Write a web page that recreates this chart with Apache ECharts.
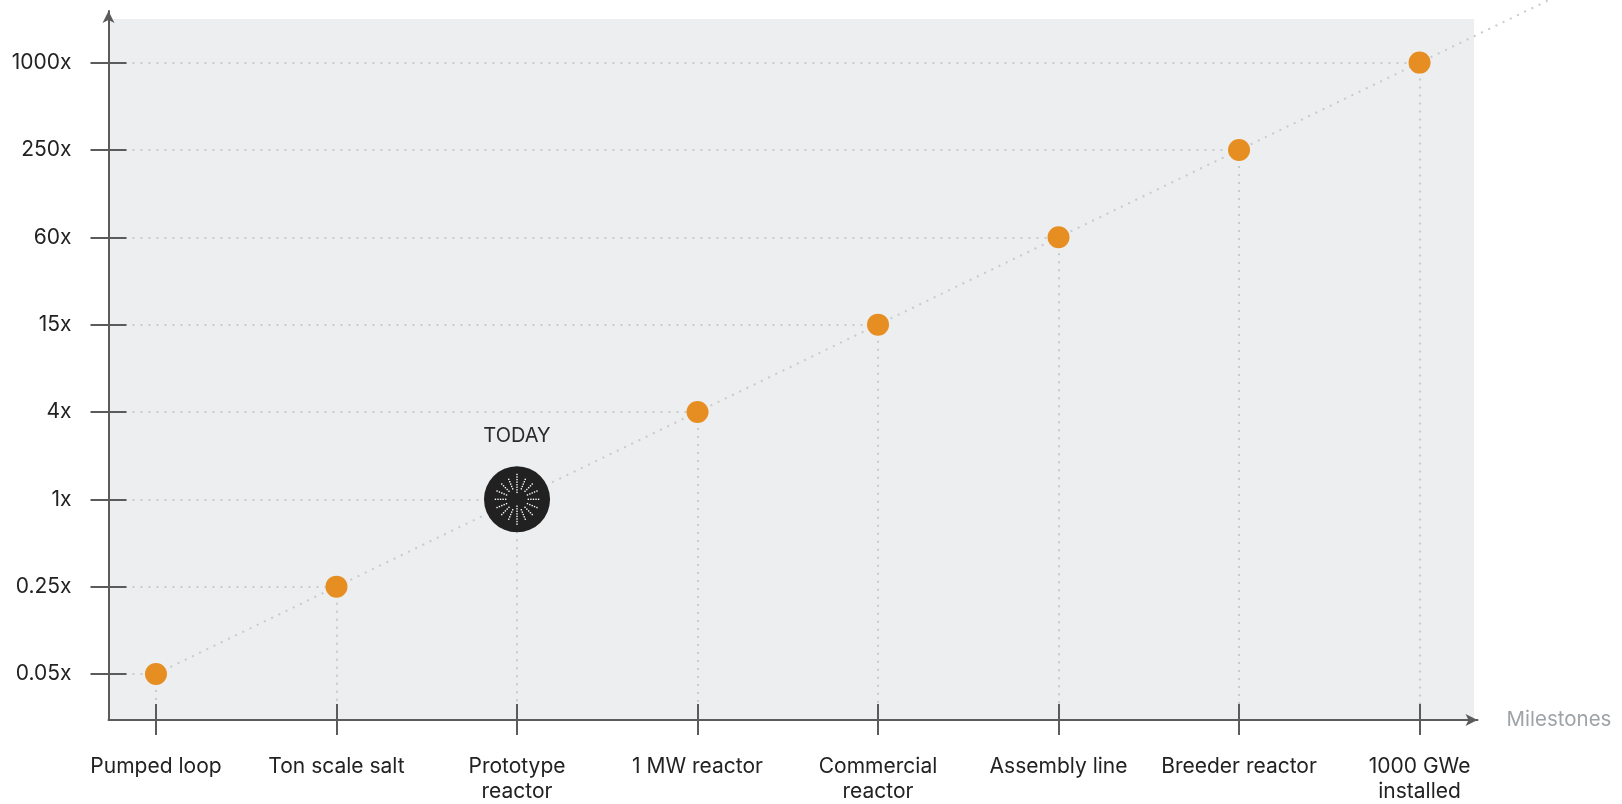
<!DOCTYPE html>
<html>
<head>
<meta charset="utf-8">
<script src="https://cdn.jsdelivr.net/npm/echarts@6/dist/echarts.min.js"></script>
<style>
  html, body { margin: 0; padding: 0; background: #ffffff; }
  #chart { width: 1622px; height: 804px; }
</style>
</head>
<body>
<div id="chart"></div>
<script>
// ---- data ----
const categories = ['Pumped loop', 'Ton scale salt', 'Prototype\nreactor', '1 MW reactor',
  'Commercial\nreactor', 'Assembly line', 'Breeder reactor', '1000 GWe\ninstalled'];
const yTickLabels = ['0.05x', '0.25x', '1x', '4x', '15x', '60x', '250x', '1000x'];
const milestoneMultipliers = ['0.05x', '0.25x', '1x', '4x', '15x', '60x', '250x', '1000x'];
const todayMilestone = 'Prototype\nreactor';
const todayLabel = 'TODAY';
const xAxisName = 'Milestones';

// ---- derived ----
const n = categories.length;
const points = categories.map((c, i) => [i, yTickLabels.indexOf(milestoneMultipliers[i])]);
const todayIdx = categories.indexOf(todayMilestone);

const X_MIN = -0.263, X_MAX = (n - 1) + 0.321;
const Y_MIN = -0.527, Y_MAX = (yTickLabels.length - 1) + 0.591;
const BG_RIGHT = (n - 1) + 0.302, BG_TOP = (yTickLabels.length - 1) + 0.5;

const FONT = 'Inter, "Noto Sans", sans-serif';
const AXIS_COLOR = '#5b5b5b';
const DOT_COLOR = '#c9cacc';
const DOTTED = [2, 6];

// trend line from first point through last, extended beyond plot
const first = points[0], last = points[n - 1];
const slope = (last[1] - first[1]) / (last[0] - first[0]);
const trend = [first, [n + 1, first[1] + slope * (n + 1 - first[0])]];

// guide lines
const guides = [];
points.forEach(p => {
  guides.push([{ coord: [X_MIN, p[1]] }, { coord: [p[0], p[1]] }]);
  guides.push([{ coord: [p[0], p[1]] }, { coord: [p[0], Y_MIN] }]);
});

// TODAY icon
function todayIcon() {
  const s = 68, c = s / 2;
  let dots = '';
  const rays = 16;
  for (let k = 0; k < rays; k++) {
    const a = (k / rays) * Math.PI * 2;
    const vertical = (k === 0 || k === rays / 2);
    const r0 = vertical ? 7 : 11.5, r1 = vertical ? 27 : 23;
    for (let r = r0; r <= r1 + 0.01; r += 2.6) {
      const x = c + Math.sin(a) * r, y = c - Math.cos(a) * r;
      dots += `<rect x="${(x - 0.7).toFixed(2)}" y="${(y - 0.7).toFixed(2)}" width="1.4" height="1.4" fill="#ffffff"/>`;
    }
  }
  const svg = `<svg xmlns="http://www.w3.org/2000/svg" width="${s}" height="${s}" viewBox="0 0 ${s} ${s}">` +
    `<circle cx="${c}" cy="${c}" r="${c - 0.5}" fill="#212121"/>${dots}</svg>`;
  return 'image://data:image/svg+xml;charset=utf-8,' + encodeURIComponent(svg);
}

const scatterData = points.map((p, i) => {
  if (i === todayIdx) {
    return {
      value: p,
      symbol: todayIcon(),
      symbolSize: 67,
      label: {
        show: true, formatter: todayLabel, position: 'top', distance: 20,
        fontFamily: FONT, fontSize: 20, color: '#2b2b2b'
      }
    };
  }
  return { value: p };
});

const xTickValues = categories.map((c, i) => i);
const yTickValues = yTickLabels.map((c, j) => j);

const chart = echarts.init(document.getElementById('chart'), null, { renderer: 'canvas' });
chart.setOption({
  animation: false,
  backgroundColor: '#ffffff',
  grid: { left: 108.5, right: 144.5, top: 11, bottom: 84, containLabel: false },
  xAxis: [
    {
      type: 'value', position: 'bottom', min: X_MIN, max: X_MAX, z: 10,
      name: xAxisName, nameLocation: 'end', nameGap: 29,
      nameTextStyle: { color: '#9ea3a8', fontFamily: FONT, fontSize: 20.5, verticalAlign: 'middle' },
      axisLine: { show: true, onZero: false, symbol: ['none', 'arrow'], symbolSize: [9, 12],
        lineStyle: { color: AXIS_COLOR, width: 2 } },
      axisTick: { show: true, inside: false, length: 15, customValues: xTickValues,
        lineStyle: { color: AXIS_COLOR, width: 2 } },
      axisLabel: { show: true, customValues: xTickValues, margin: 34,
        formatter: v => categories[Math.round(v)] ?? '',
        fontFamily: FONT, fontSize: 21, color: '#222222', lineHeight: 25, align: 'center' },
      splitLine: { show: false }
    },
    {
      type: 'value', position: 'bottom', offset: 0, min: X_MIN, max: X_MAX, z: 10,
      axisLine: { show: false, onZero: false },
      axisTick: { show: true, inside: true, length: 16, customValues: xTickValues,
        lineStyle: { color: AXIS_COLOR, width: 2 } },
      axisLabel: { show: false },
      splitLine: { show: false }
    }
  ],
  yAxis: [
    {
      type: 'value', position: 'left', min: Y_MIN, max: Y_MAX, z: 10,
      axisLine: { show: true, onZero: false, symbol: ['none', 'arrow'], symbolSize: [9, 12],
        lineStyle: { color: AXIS_COLOR, width: 2 } },
      axisTick: { show: true, inside: false, length: 18, customValues: yTickValues,
        lineStyle: { color: AXIS_COLOR, width: 2 } },
      axisLabel: { show: true, customValues: yTickValues, margin: 37,
        formatter: v => yTickLabels[Math.round(v)] ?? '',
        fontFamily: FONT, fontSize: 21, color: '#222222' },
      splitLine: { show: false }
    },
    {
      type: 'value', position: 'left', offset: 0, min: Y_MIN, max: Y_MAX, z: 10,
      axisLine: { show: false, onZero: false },
      axisTick: { show: true, inside: true, length: 18, customValues: yTickValues,
        lineStyle: { color: AXIS_COLOR, width: 2 } },
      axisLabel: { show: false },
      splitLine: { show: false }
    }
  ],
  series: [
    {
      type: 'line', data: [], z: 0, silent: true,
      markArea: {
        silent: true, z: 0,
        itemStyle: { color: '#edeef0' },
        data: [[{ coord: [X_MIN, Y_MIN] }, { coord: [BG_RIGHT, BG_TOP] }]]
      }
    },
    {
      type: 'line', data: [], z: 1, silent: true,
      markLine: {
        silent: true, z: 1, symbol: ['none', 'none'], label: { show: false },
        lineStyle: { color: DOT_COLOR, width: 2, type: DOTTED, cap: 'butt' },
        emphasis: { disabled: true },
        data: guides
      }
    },
    {
      type: 'scatter', data: scatterData, z: 3, clip: false,
      symbol: 'circle', symbolSize: 22,
      itemStyle: { color: '#e68e22', opacity: 1 }
    }
  ]
});

// Trend line (extends beyond the plot area), positioned through the chart's own scales
function drawTrend() {
  const pts = trend.map(p => chart.convertToPixel({ xAxisIndex: 0, yAxisIndex: 0 }, p));
  chart.setOption({
    graphic: [{
      id: 'trend', type: 'polyline', z: 2, silent: true,
      shape: { points: pts },
      style: { stroke: DOT_COLOR, lineWidth: 2, lineDash: DOTTED, fill: null }
    }]
  });
}
drawTrend();
</script>
</body>
</html>
